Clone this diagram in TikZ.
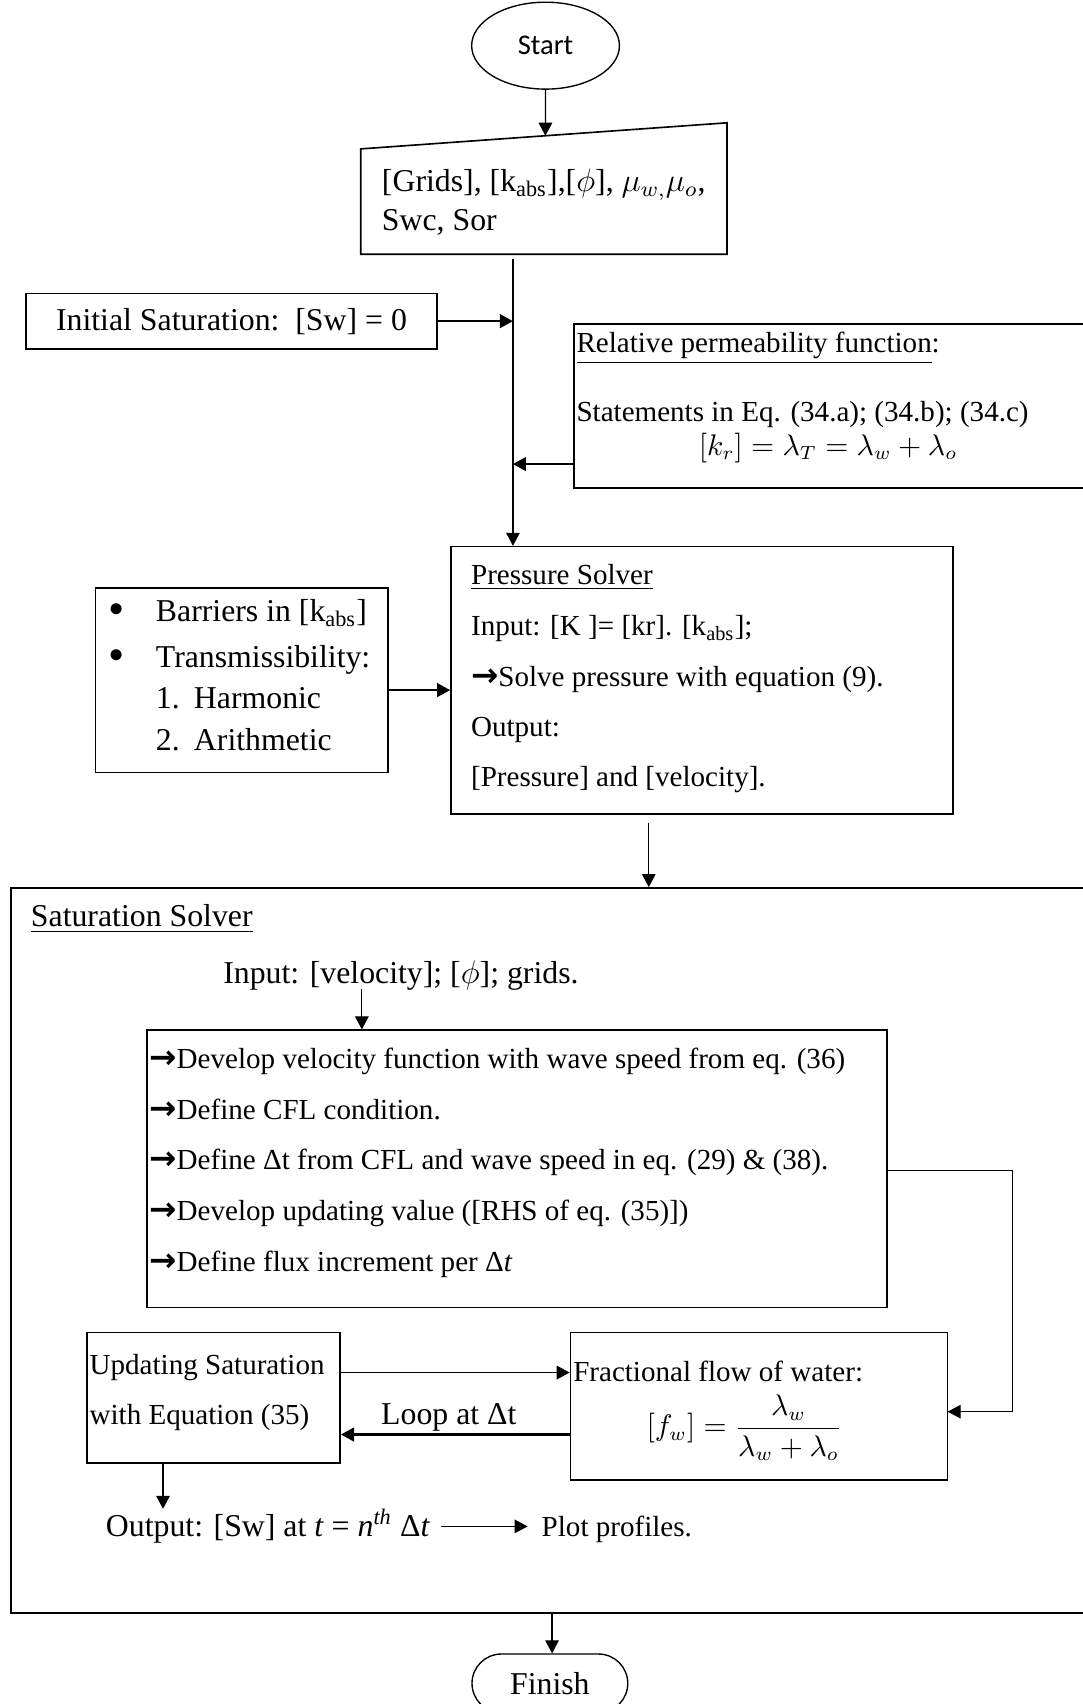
\documentclass[tikz,border=0pt]{standalone}
\usepackage{fontspec}
\setmainfont{Liberation Serif}
\newfontfamily\startfont{Carlito}
\newfontfamily\symfont{DejaVu Sans}
\usetikzlibrary{arrows.meta,shapes.geometric,shapes.misc,fit,calc}

\newcommand{\ra}{{\symfont\bfseries\fontsize{12}{12}\selectfont →}}

\begin{document}
\begin{tikzpicture}[x=0.4pt, y=-0.4pt,
    font=\fontsize{10.7}{13}\selectfont,
    bigtext/.style={font=\fontsize{11.7}{14}\selectfont},
    box/.style={draw, line width=0.6pt, inner sep=0pt},
    txt/.style={anchor=base west, inner sep=0pt},
    arr/.style={line width=0.45pt, -{Triangle[length=4.8pt,width=5pt]}},
    barr/.style={arr, line width=0.9pt}]
\useasboundingbox (0,0) rectangle (996,1568);
% Start and input data
    \node[ellipse, draw, line width=0.5pt, minimum width=54.4pt, minimum height=32pt,
        inner sep=0pt, font=\startfont\fontsize{10.5}{12}\selectfont] (start) at (502,42) {Start};
    \coordinate (inTL) at (332,137);
    \coordinate (inTR) at (669,113);
    \coordinate (inBR) at (669,234);
    \coordinate (inBL) at (332,234);
    \draw[line width=0.6pt] (inTL) -- (inTR) -- (inBR) -- (inBL) -- cycle;
    \node[txt, bigtext] (inp1) at (351,176) {[Grids], [k\textsubscript{abs}],[$\phi$], $\mu_{w,}\mu_o$,};
    \node[txt, bigtext] (inp2) at (351,212) {Swc, Sor};
    \coordinate (inTop) at ($(inTL)!0.504!(inTR)$);
    \draw[arr] (start.south) -- (inTop);
    \coordinate (trunk) at (472,238);
% Initial saturation
    \node[box, fit={(24,270) (402,321)}] (init) {};
    \node[bigtext, inner sep=0pt] (initT) at (init.center) {Initial Saturation:\ \ [Sw] = 0};
    \draw[barr] (init.east) -- (init.east -| trunk);
% Relative permeability
    \node[box, fit={(528,298) (1010,449)}] (relperm) {};
    \node[txt] (rp1) at (530,324) {\underline{Relative permeability function}:};
    \node[txt] (rp2) at (530,388) {Statements in Eq. (34.a); (34.b); (34.c)};
    \node[anchor=base, inner sep=0pt] (rp3) at (762,419) {$[k_r] = \lambda_T = \lambda_w + \lambda_o$};
    \coordinate (rpOut) at (528,427);
    \draw[barr] (rpOut) -- (rpOut -| trunk);
% Pressure solver
    \node[box, fit={(415,503) (877,749)}] (press) {};
    \draw[arr] (trunk) -- (trunk |- press.north);
    \node[txt] (ps1) at (433,538) {\underline{Pressure Solver}};
    \node[txt] (ps2) at (433,585) {Input: [K ]= [kr]. [k\textsubscript{abs}];};
    \node[txt] (ps3) at (433,632) {\ra Solve pressure with equation (9).};
    \node[txt] (ps4) at (433,678) {Output:};
    \node[txt] (ps5) at (433,724) {[Pressure] and [velocity].};
% Barriers
    \node[box, fit={(88,541) (357,711)}] (barrier) {};
    \node[txt, font=\fontsize{17}{17}\selectfont] (bb1) at (99,575) {\textbullet};
    \node[txt, bigtext] (bt1) at (143,572) {Barriers in [k\textsubscript{abs}]};
    \node[txt, font=\fontsize{17}{17}\selectfont] (bb2) at (99,617) {\textbullet};
    \node[txt, bigtext] (bt2) at (143,614) {Transmissibility:};
    \node[txt, bigtext] (bn3) at (143,652) {1.};
    \node[txt, bigtext] (bt3) at (178,652) {Harmonic};
    \node[txt, bigtext] (bn4) at (143,691) {2.};
    \node[txt, bigtext] (bt4) at (178,691) {Arithmetic};
    \coordinate (barOut) at (357,635);
    \draw[barr] (barOut) -- (barOut -| press.west);
% Saturation solver
    \coordinate (pOut) at (597,757);
    \node[box, fit={(10,817) (1010,1484)}] (sat) {};
    \draw[arr] (pOut) -- (pOut |- sat.north);
    \node[txt, bigtext] (st) at (28,853) {\underline{Saturation Solver}};
    \node[txt, bigtext] (satin) at (205,905) {Input: [velocity]; [$\phi$]; grids.};
    \node[box, fit={(135,948) (816,1203)}] (steps) {};
    \coordinate (vIn) at (333,910);
    \draw[arr] (vIn) -- (vIn |- steps.north);
    \node[txt] (s1) at (137,983) {\ra Develop velocity function with wave speed from eq. (36)};
    \node[txt] (s2) at (137,1030) {\ra Define CFL condition.};
    \node[txt] (s3) at (137,1076) {\ra Define Δt from CFL and wave speed in eq. (29) \& (38).};
    \node[txt] (s4) at (137,1123) {\ra Develop updating value ([RHS of eq. (35)])};
    \node[txt] (s5) at (137,1170) {\ra Define flux increment per Δ\textit{t}};
% Update loop
    \node[box, fit={(80,1226) (313,1346)}] (upd) {};
    \node[txt] (u1) at (82,1265) {Updating Saturation};
    \node[txt] (u2) at (82,1311) {with Equation (35)};
    \node[box, fit={(525,1226) (872,1362)}] (frac) {};
    \node[txt] (f1) at (527,1271) {Fractional flow of water:};
    \node[inner sep=0pt] (f2) at (685,1314) {$[f_w] = \displaystyle\frac{\lambda_w}{\lambda_w + \lambda_o}$};
    \coordinate (stOut) at (816,1077);
    \coordinate (frIn) at (872,1299);
    \draw[arr] (stOut) -| ($(frIn)+(60,0)$) -- (frIn);
    \coordinate (updOut) at (313,1263);
    \draw[arr, line width=0.6pt] (updOut) -- (updOut -| frac.west);
    \coordinate (frOut) at (525,1320);
    \draw[barr] (frOut) -- (frOut -| upd.east);
    \node[anchor=base, inner sep=0pt, bigtext] (loop) at (413,1311) {Loop at Δt};
% Output and finish
    \node[txt, bigtext] (outT) at (97,1414) {Output: [Sw] at \textit{t} = \textit{n}\textsuperscript{\textit{th}} Δ\textit{t}};
    \node[txt] (plot) at (498,1414) {Plot profiles.};
    \coordinate (updDn) at (150,1346);
    \draw[arr] (updDn) -- (updDn |- outT.north);
    \draw[arr, shorten <=4pt, shorten >=5pt] (outT.east) -- (outT.east -| plot.west);
    \coordinate (sOut) at (508,1484);
    \node[rounded rectangle, draw, line width=0.5pt, minimum width=64pt, minimum height=21.6pt,
        bigtext] (fin) at (506,1549) {Finish};
    \draw[arr] (sOut) -- (sOut |- fin.north);
\end{tikzpicture}
\end{document}
